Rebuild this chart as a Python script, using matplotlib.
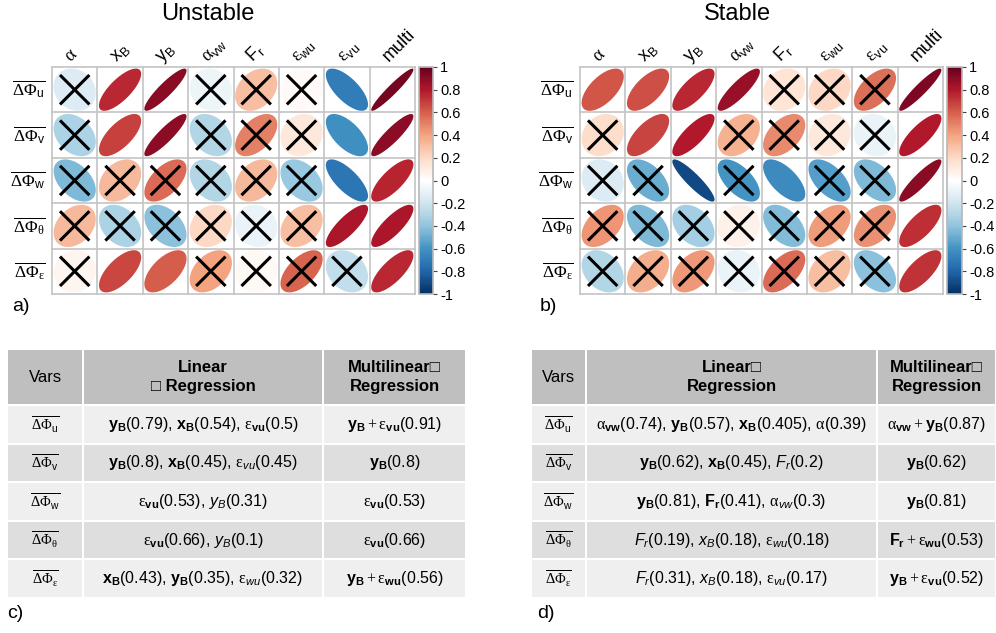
import numpy as np
import matplotlib
matplotlib.use("Agg")
import matplotlib.pyplot as plt
from matplotlib.colors import LinearSegmentedColormap, Normalize
from matplotlib.cm import ScalarMappable
from matplotlib.patches import Rectangle

plt.rcParams["font.family"] = ["Liberation Sans", "DejaVu Sans"]
plt.rcParams["mathtext.fontset"] = "custom"
plt.rcParams["mathtext.rm"] = "Liberation Serif"
plt.rcParams["mathtext.it"] = "Liberation Sans:italic"
plt.rcParams["mathtext.bf"] = "Liberation Sans:bold"
plt.rcParams["mathtext.sf"] = "Liberation Sans"

# ---- data ----
row_labels = [
    r"$\overline{\mathrm{\Delta\Phi}_\mathsf{u}}$",
    r"$\overline{\mathrm{\Delta\Phi}_\mathsf{v}}$",
    r"$\overline{\mathrm{\Delta\Phi}_\mathsf{w}}$",
    r"$\overline{\mathrm{\Delta\Phi}_\mathrm{\theta}}$",
    r"$\overline{\mathrm{\Delta\Phi}_\mathrm{\varepsilon}}$",
]
col_labels = [
    r"$\mathrm{\alpha}$", r"$\mathsf{x_B}$", r"$\mathsf{y_B}$",
    r"$\mathrm{\alpha}_\mathsf{vw}$", r"$\mathsf{F_r}$",
    r"$\mathrm{\varepsilon}_\mathsf{wu}$", r"$\mathrm{\varepsilon}_\mathsf{vu}$",
    "multi",
]

# correlation coefficients (rows: u, v, w, theta, eps)
unstable_r = np.array([
    [-0.15, 0.75, 0.90, -0.08, 0.30, 0.02, -0.70, 0.95],
    [-0.32, 0.68, 0.89, -0.30, 0.50, 0.12, -0.62, 0.89],
    [-0.45, 0.32, 0.56, -0.30, 0.32, -0.38, -0.73, 0.76],
    [0.32, -0.32, -0.42, 0.20, -0.10, 0.30, 0.81, 0.81],
    [0.05, 0.66, 0.60, 0.40, 0.03, 0.58, -0.25, 0.75],
])
unstable_ns = np.array([
    [1, 0, 0, 1, 1, 1, 0, 0],
    [1, 0, 0, 1, 1, 1, 0, 0],
    [1, 1, 1, 1, 1, 1, 0, 0],
    [1, 1, 1, 1, 1, 1, 0, 0],
    [1, 0, 0, 1, 1, 1, 1, 0],
])
stable_r = np.array([
    [0.62, 0.64, 0.75, 0.86, 0.15, 0.20, 0.55, 0.93],
    [0.18, 0.67, 0.79, 0.35, 0.47, 0.12, -0.10, 0.79],
    [-0.15, -0.50, -0.90, -0.60, -0.64, -0.55, -0.45, 0.90],
    [0.44, -0.45, -0.35, 0.07, -0.44, 0.42, 0.45, 0.73],
    [-0.30, 0.36, 0.43, -0.10, 0.56, 0.30, -0.42, 0.72],
])
stable_ns = np.array([
    [0, 0, 0, 0, 1, 1, 1, 0],
    [1, 0, 0, 1, 1, 1, 1, 0],
    [1, 1, 0, 1, 0, 1, 1, 0],
    [1, 1, 1, 1, 1, 1, 1, 0],
    [1, 1, 1, 1, 1, 1, 1, 0],
])

cbar_ticks = [1, 0.8, 0.6, 0.4, 0.2, 0, -0.2, -0.4, -0.6, -0.8, -1]

table_c_header = ["Vars", "Linear\n\u25a1 Regression", "Multilinear\u25a1\nRegression"]
table_d_header = ["Vars", "Linear\u25a1\nRegression", "Multilinear\u25a1\nRegression"]
eps = r"\mathrm{\varepsilon}"
alp = r"\mathrm{\alpha}"
unstable_linear = [
    r"$\mathbf{y_B}$(0.79), $\mathbf{x_B}$(0.54), $" + eps + r"_\mathbf{vu}$(0.5)",
    r"$\mathbf{y_B}$(0.8), $\mathbf{x_B}$(0.45), $" + eps + r"_\mathit{vu}$(0.45)",
    r"$" + eps + r"_\mathbf{vu}$(0.53), $\mathit{y_B}$(0.31)",
    r"$" + eps + r"_\mathbf{vu}$(0.66), $\mathit{y_B}$(0.1)",
    r"$\mathbf{x_B}$(0.43), $\mathbf{y_B}$(0.35), $" + eps + r"_\mathit{wu}$(0.32)",
]
unstable_multi = [
    r"$\mathbf{y_B}+" + eps + r"_\mathbf{vu}$(0.91)",
    r"$\mathbf{y_B}$(0.8)",
    r"$" + eps + r"_\mathbf{vu}$(0.53)",
    r"$" + eps + r"_\mathbf{vu}$(0.66)",
    r"$\mathbf{y_B}+" + eps + r"_\mathbf{wu}$(0.56)",
]
stable_linear = [
    r"$" + alp + r"_\mathbf{vw}$(0.74), $\mathbf{y_B}$(0.57), $\mathbf{x_B}$(0.405), $" + alp + r"$(0.39)",
    r"$\mathbf{y_B}$(0.62), $\mathbf{x_B}$(0.45), $\mathit{F_r}$(0.2)",
    r"$\mathbf{y_B}$(0.81), $\mathbf{F_r}$(0.41), $" + alp + r"_\mathit{vw}$(0.3)",
    r"$\mathit{F_r}$(0.19), $\mathit{x_B}$(0.18), $" + eps + r"_\mathit{wu}$(0.18)",
    r"$\mathit{F_r}$(0.31), $\mathit{x_B}$(0.18), $" + eps + r"_\mathit{vu}$(0.17)",
]
stable_multi = [
    r"$" + alp + r"_\mathbf{vw}+\mathbf{y_B}$(0.87)",
    r"$\mathbf{y_B}$(0.62)",
    r"$\mathbf{y_B}$(0.81)",
    r"$\mathbf{F_r}+" + eps + r"_\mathbf{wu}$(0.53)",
    r"$\mathbf{y_B}+" + eps + r"_\mathbf{vu}$(0.52)",
]

# ---- figure ----
W, H = 996, 633
fig = plt.figure(figsize=(W / 100, H / 100), dpi=100)

cmap = LinearSegmentedColormap.from_list(
    "corr_rdbu",
    ["#053061", "#2166AC", "#4393C3", "#92C5DE", "#D1E5F0", "#FFFFFF",
     "#FDDBC7", "#F4A582", "#D6604D", "#B2182B", "#67001F"],
    N=200,
)
norm = Normalize(-1, 1)


def px_rect(x0, y0, x1, y1):
    return [x0 / W, 1 - y1 / H, (x1 - x0) / W, (y1 - y0) / H]


# background axes in pixel coordinates for tables and panel letters
bg = fig.add_axes([0, 0, 1, 1])
bg.set_xlim(0, W)
bg.set_ylim(H, 0)
bg.axis("off")

t = np.linspace(0, 2 * np.pi, 120)


def draw_corr(rect, cax_rect, r, ns):
    ax = fig.add_axes(px_rect(*rect))
    nrow, ncol = r.shape
    ax.set_xlim(0, ncol)
    ax.set_ylim(0, nrow)
    ax.axis("off")
    for i in range(nrow):
        cy = nrow - i - 0.5
        for j in range(ncol):
            cx = j + 0.5
            d = np.arccos(np.clip(r[i, j], -1, 1))
            ax.fill(cx + 0.465 * np.cos(t + d / 2), cy + 0.465 * np.cos(t - d / 2),
                    color=cmap(norm(r[i, j])), lw=0, zorder=1)
            if ns[i, j]:
                ax.plot([cx - 0.3, cx + 0.3], [cy - 0.3, cy + 0.3], color="black", lw=2.2, zorder=2)
                ax.plot([cx - 0.3, cx + 0.3], [cy + 0.3, cy - 0.3], color="black", lw=2.2, zorder=2)
        ax.text(-0.15, cy, row_labels[i], ha="right", va="center", fontsize=12.5)
    for k in range(ncol + 1):
        ax.plot([k, k], [0, nrow], color="#c4c4c4", lw=1.2, zorder=3, clip_on=False)
    for k in range(nrow + 1):
        ax.plot([0, ncol], [k, k], color="#c4c4c4", lw=1.2, zorder=3, clip_on=False)
    for j, lab in enumerate(col_labels):
        ax.text(j + 0.42, nrow + 0.1, lab, rotation=45, rotation_mode="anchor",
                ha="left", va="baseline", fontsize=13)

    cax = fig.add_axes(px_rect(*cax_rect))
    cb = fig.colorbar(ScalarMappable(norm=norm, cmap=cmap), cax=cax)
    cb.set_ticks(cbar_ticks)
    cb.set_ticklabels([f"{round(v, 1) + 0.0:g}" for v in cbar_ticks])
    cb.outline.set_edgecolor("#b8b8b8")
    cb.outline.set_linewidth(1.2)
    cax.tick_params(length=3, width=0.8, labelsize=10.5, pad=2, color="#444444")


draw_corr((52, 67, 415, 294), (419, 67, 433, 294), unstable_r, unstable_ns)
draw_corr((580, 67, 943, 294), (947, 67, 962, 294), stable_r, stable_ns)

fig.text(208 / W, 1 - 20 / H, "Unstable", ha="center", va="baseline", fontsize=17)
fig.text(737 / W, 1 - 20 / H, "Stable", ha="center", va="baseline", fontsize=17)


def draw_table(x_edges, header, linear, multi):
    y_edges = [349, 405] + [405 + 38.6 * (k + 1) for k in range(len(linear))]
    row_colors = ["#efefef", "#dedede"]
    for i in range(len(y_edges) - 1):
        y0, y1 = y_edges[i], y_edges[i + 1]
        fc = "#bfbfbf" if i == 0 else row_colors[(i - 1) % 2]
        for j in range(3):
            x0, x1 = x_edges[j], x_edges[j + 1]
            bg.add_patch(Rectangle((x0 + 1, y0 + 1), x1 - x0 - 2, y1 - y0 - 2,
                                   facecolor=fc, edgecolor="none"))
            cx, cy = (x0 + x1) / 2, (y0 + y1) / 2
            if i == 0:
                bold = "normal" if j == 0 else "bold"
                bg.text(cx, cy, header[j], ha="center", va="center", fontsize=12,
                        fontweight=bold, linespacing=1.35)
            else:
                txt = [row_labels[i - 1], linear[i - 1], multi[i - 1]][j]
                fs = 10.5 if j == 0 else 11.5
                bg.text(cx, cy, txt, ha="center", va="center", fontsize=fs)


draw_table([7, 83, 323, 466], table_c_header, unstable_linear, unstable_multi)
draw_table([531, 586, 877, 996], table_d_header, stable_linear, stable_multi)

for lab, x, y in [("a)", 12, 311), ("b)", 540, 311), ("c)", 7, 618), ("d)", 537, 618)]:
    bg.text(x, y, lab, ha="left", va="baseline", fontsize=14)

fig.savefig("out.png", dpi=100)
